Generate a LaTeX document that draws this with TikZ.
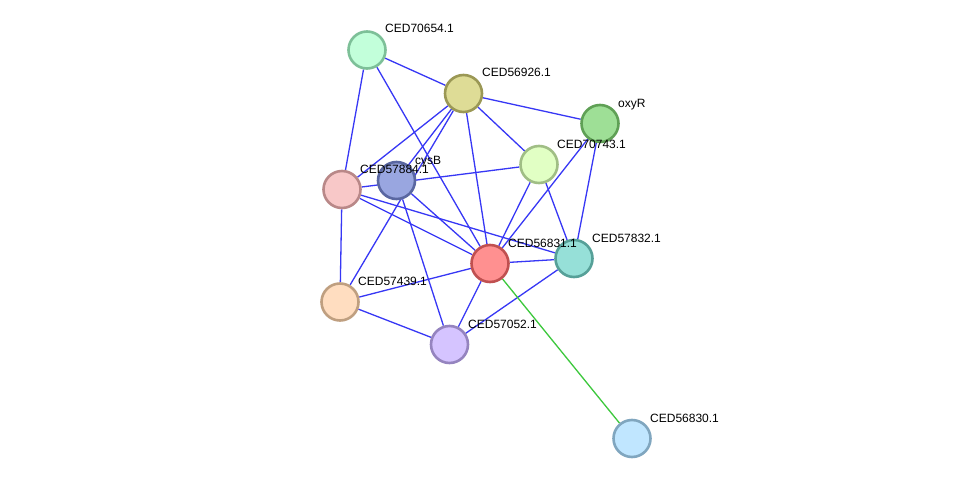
\documentclass[tikz,border=0pt]{standalone}
\usepackage{fontspec}
\setmainfont{Liberation Sans}
\pgfdeclarelayer{bg}
\pgfsetlayers{bg,main}
\definecolor{edgeblue}{RGB}{55,55,245}
\definecolor{edgegreen}{RGB}{60,200,60}
\tikzset{
  prot/.style={circle, minimum size=37pt, inner sep=0pt, line width=2.6pt},
  lbl/.style={anchor=base west, inner sep=0pt, font=\fontsize{12}{14}\selectfont},
  ppi/.style={draw=edgeblue, line width=1.3pt},
  ppg/.style={draw=edgegreen, line width=1.3pt},
}
\begin{document}
\begin{tikzpicture}[x=1pt,y=-1pt]
\useasboundingbox (0,0) rectangle (976,484);
% nodes
\node[prot, fill={rgb,255:red,194;green,255;blue,218}, draw={rgb,255:red,125;green,192;blue,152}] (a) at (367,50) {};
\node[prot, fill={rgb,255:red,222;green,220;blue,150}, draw={rgb,255:red,155;green,152;blue,85}] (b) at (463.5,93.5) {};
\node[prot, fill={rgb,255:red,158;green,223;blue,150}, draw={rgb,255:red,95;green,160;blue,85}] (c) at (600,123.5) {};
\node[prot, fill={rgb,255:red,225;green,255;blue,196}, draw={rgb,255:red,160;green,190;blue,133}] (d) at (539,164.5) {};
\node[prot, fill={rgb,255:red,248;green,200;blue,200}, draw={rgb,255:red,185;green,136;blue,136}] (f) at (342,189.5) {};
\node[prot, fill={rgb,255:red,153;green,166;blue,224}, draw={rgb,255:red,90;green,103;blue,161}] (e) at (396.5,180.5) {};
\node[prot, fill={rgb,255:red,255;green,144;blue,144}, draw={rgb,255:red,192;green,80;blue,80}] (g) at (490,263.5) {};
\node[prot, fill={rgb,255:red,150;green,224;blue,216}, draw={rgb,255:red,86;green,160;blue,152}] (h) at (574,258.5) {};
\node[prot, fill={rgb,255:red,255;green,221;blue,192}, draw={rgb,255:red,191;green,159;blue,128}] (i) at (340,302) {};
\node[prot, fill={rgb,255:red,213;green,196;blue,255}, draw={rgb,255:red,149;green,132;blue,191}] (j) at (449.5,344.5) {};
\node[prot, fill={rgb,255:red,192;green,230;blue,255}, draw={rgb,255:red,128;green,166;blue,191}] (k) at (632,438.5) {};
% edges
\begin{pgfonlayer}{bg}
\fill[white] (0,0) rectangle (976,484);
\draw[ppi] (a) -- (b);
\draw[ppi] (a) -- (f);
\draw[ppi] (a) -- (g);
\draw[ppi] (b) -- (c);
\draw[ppi] (b) -- (d);
\draw[ppi] (b) -- (g);
\draw[ppi] (b) -- (e);
\draw[ppi] (b) -- (f);
\draw[ppi] (b) -- (i);
\draw[ppi] (c) -- (g);
\draw[ppi] (c) -- (h);
\draw[ppi] (d) -- (f);
\draw[ppi] (d) -- (g);
\draw[ppi] (d) -- (h);
\draw[ppi] (f) -- (g);
\draw[ppi] (f) -- (h);
\draw[ppi] (f) -- (i);
\draw[ppi] (e) -- (g);
\draw[ppi] (e) -- (j);
\draw[ppi] (g) -- (h);
\draw[ppi] (g) -- (i);
\draw[ppi] (g) -- (j);
\draw[ppi] (h) -- (j);
\draw[ppi] (i) -- (j);
\draw[ppg] (g) -- (k);
\end{pgfonlayer}
% labels
\node[lbl] (la) at (385,33) {CED70654.1};
\node[lbl] (lb) at (482,77) {CED56926.1};
\node[lbl] (lc) at (618,107) {oxyR};
\node[lbl] (ld) at (557,148) {CED70743.1};
\node[lbl] (le) at (415,164) {cysB};
\node[lbl] (lf) at (360,173) {CED57884.1};
\node[lbl] (lg) at (508,247) {CED56831.1};
\node[lbl] (lh) at (592,242) {CED57832.1};
\node[lbl] (li) at (358,285) {CED57439.1};
\node[lbl] (lj) at (468,328) {CED57052.1};
\node[lbl] (lk) at (650,422) {CED56830.1};
\end{tikzpicture}
\end{document}
